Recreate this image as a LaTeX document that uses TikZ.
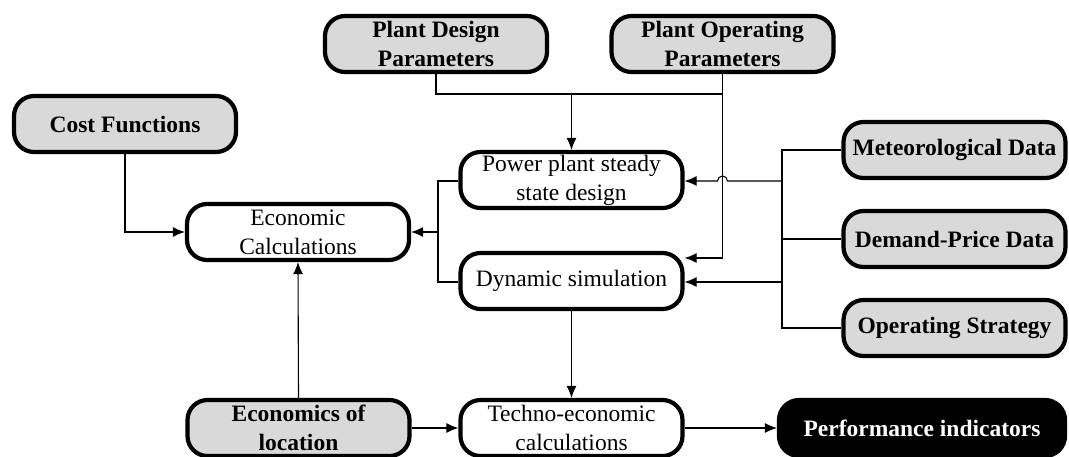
\documentclass[tikz,border=0pt]{standalone}
\usepackage{fontspec}
\setmainfont{Liberation Serif}
\usetikzlibrary{arrows.meta}
\begin{document}
\begin{tikzpicture}[x=1pt,y=-1pt,
  box/.style={draw=black,line width=4.2pt,rounded corners=20pt,align=center,
    font=\fontsize{23.5}{29}\selectfont,inner sep=1pt,minimum height=56pt,minimum width=222pt},
  inbox/.style={box,fill=gray!30,font=\fontsize{23.5}{29}\selectfont\bfseries},
  outbox/.style={box,fill=black,text=white,font=\fontsize{23.5}{29}\selectfont\bfseries},
  conn/.style={line width=1.1pt},
  arr/.style={conn,-{Latex[length=12pt,width=10pt]}}]
\useasboundingbox (0,0) rectangle (1069,456);
\node[inbox] (pdp) at (436,44) {Plant Design\\Parameters};
\node[inbox] (pop) at (722.5,44) {Plant Operating\\Parameters};
\node[inbox] (cost) at (125,124) {Cost Functions};
\node[box] (econ) at (298,232) {Economic\\Calculations};
\node[box] (power) at (571.5,180) {Power plant steady\\state design};
\node[box] (dyn) at (571.5,281) {Dynamic simulation};
\node[inbox] (met) at (954.5,150) {Meteorological Data};
\node[inbox] (dem) at (954.5,239) {Demand-Price Data};
\node[inbox] (ops) at (954.5,328) {Operating Strategy};
\node[inbox] (ecloc) at (298.5,428) {Economics of\\location};
\node[box] (techno) at (571.5,428) {Techno-economic\\calculations};
\node[outbox,minimum width=286pt] (perf) at (922,428) {Performance indicators};
% coordinates
\coordinate (j1) at (571.5,94);
\coordinate (busT) at (782,150);
\coordinate (busB) at (782,328);
\coordinate (lb) at (438,232);
% top inputs
\draw[conn] (pdp.south) |- (j1) -| (pop.south);
\draw[arr] (j1) -- (power.north);
\draw[arr] (pop.south) -- (722.5,258) -- (dyn.east |- 0,258);
% bus
\draw[conn] (met.west) -- (busT) -- (busB) -- (ops.west);
\draw[conn] (dem.west) -- (782,239);
\draw[arr] (782,181) -- (727.5,181) arc[start angle=0,end angle=180,radius=5pt] -- (power.east |- 0,181);
\draw[arr] (782,282) -- (dyn.east |- 0,282);
% left bus
\draw[conn] (power.west |- 0,181) -| (lb) |- (dyn.west |- 0,282);
\draw[arr] (lb) -- (econ.east);
\draw[arr] (cost.south) |- (econ.west);
\draw[arr] (ecloc.north) -- (econ.south);
\draw[arr] (dyn.south) -- (techno.north);
\draw[arr] (ecloc.east) -- (techno.west);
\draw[arr] (techno.east) -- (perf.west);
\end{tikzpicture}
\end{document}
